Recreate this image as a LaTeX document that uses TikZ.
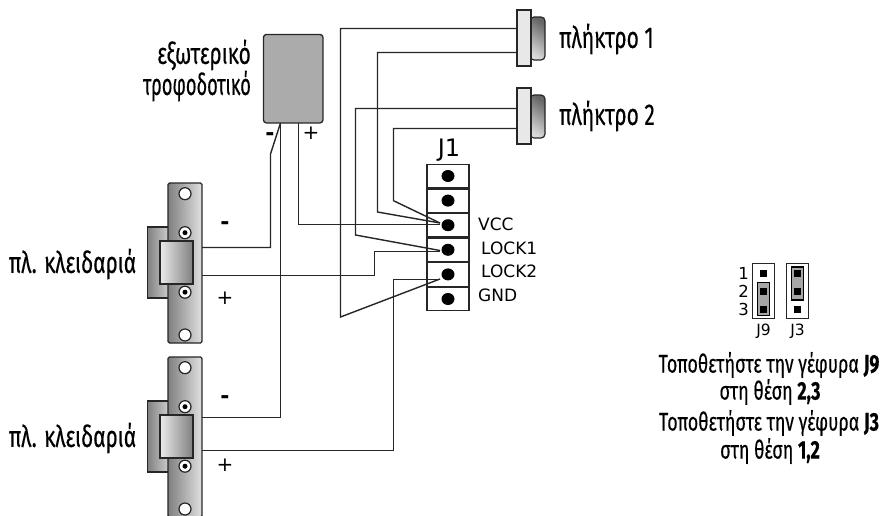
\documentclass[tikz,border=0pt]{standalone}
\usepackage{fontspec}
\setmainfont{DejaVu Sans}
\newfontfamily\labelfont[FakeStretch=0.70,FakeBold=0.35]{Fira Sans}
\usetikzlibrary{positioning, shapes.geometric}
\definecolor{wirecol}{gray}{0.15}
\tikzset{
  x=1pt, y=-1pt,
  wire/.style={draw=wirecol, line width=1.4pt},
  box/.style={draw=black!85, line width=1.2pt, inner sep=0pt, minimum width=#1},
  platebody/.style={box=34pt, minimum height=160pt, rounded corners=1.5pt, left color=black!50, right color=black!12},
  platebar/.style={box=21pt, minimum height=71pt, left color=black!50, right color=black!20},
  platekeep/.style={box=33pt, minimum height=43pt, left color=black!8, right color=black!50},
  hole/.style={circle, draw=black!85, line width=1.2pt, fill=white, inner sep=0pt, minimum size=#1},
  screw/.style={circle, fill=black, inner sep=0pt, minimum size=5pt},
  pad/.style={ellipse, fill=black, inner sep=0pt, minimum width=13pt, minimum height=12pt},
  cell/.style={draw=black!85, line width=1.2pt, inner sep=0pt, minimum width=42pt, minimum height=23.4pt},
  pinsq/.style={fill=black, inner sep=0pt, minimum size=7pt},
  bridge/.style={draw=black, line width=1.5pt, fill=black!35, inner sep=0pt, minimum width=12pt, minimum height=33pt},
  header/.style={draw=black!85, line width=1pt, inner sep=0pt, minimum width=22pt, minimum height=55.5pt},
  keycap/.style={draw=black!85, line width=1.2pt, rounded corners=4pt, top color=black!60, bottom color=black!15, shading angle=-35},
  keybody/.style={box=14pt, minimum height=56pt, fill=black!9},
  biglabel/.style={font=\labelfont\fontsize{30}{32}\selectfont, inner sep=0pt},
  notelabel/.style={font=\labelfont\fontsize{25.5}{28}\selectfont, inner sep=0pt},
  pinlabel/.style={font=\fontsize{17}{19}\selectfont, inner sep=0pt, anchor=west},
  smalllabel/.style={font=\fontsize{15.5}{17}\selectfont, inner sep=0pt},
  signlabel/.style={font=\fontsize{20}{22}\selectfont, inner sep=0pt},
  minuslabel/.style={font=\bfseries\fontsize{22}{24}\selectfont, inner sep=0pt},
}

\begin{document}
\begin{tikzpicture}
  \useasboundingbox (0,0) rectangle (881,515);

  % locks
  \foreach \nm/\dy in {A/0, B/174} {
    \begin{scope}[yshift=-\dy pt]
      \node[platebar]  (bar\nm)  at (157.8,262.5) {};
      \node[platebody] (body\nm) at (185,263) {};
      \node[hole=12pt] (holeT\nm) at (185,193.7) {};
      \node[hole=12pt] (holeU\nm) at (185,232.7) {};
      \node[screw]     at (holeU\nm) {};
      \node[hole=12pt] (holeL\nm) at (185,292.2) {};
      \node[screw]     at (holeL\nm) {};
      \node[hole=12pt] (holeB\nm) at (185,335) {};
      \node[platekeep] (keep\nm) at (176.5,262.5) {};
    \end{scope}
  }

  % supply
  \node[draw=black!85, line width=1.3pt, fill=black!33, rounded corners=3pt, inner sep=0pt,
        minimum width=59.5pt, minimum height=88.5pt] (supply) at (293.2,78.7) {};

  % keys
  \draw[keycap] (530,17) -- (545,17) -- (545,60) -- (530,60) -- cycle;
  \draw[keycap] (530,95) -- (545,95) -- (545,138) -- (530,138) -- cycle;
  \node[keybody] (keyA) at (524,38) {};
  \node[keybody] (keyB) at (524,116) {};

  % J1
  \node[cell] (c1) at (448,176) {};
  \node[cell, below=0pt of c1] (c2) {};
  \node[cell, below=0pt of c2] (c3) {};
  \node[cell, below=0pt of c3] (c4) {};
  \node[cell, below=0pt of c4] (c5) {};
  \node[cell, below=0pt of c5] (c6) {};
  \foreach \i in {1,...,6} \node[pad] (p\i) at (c\i) {};
  \node[font=\fontsize{24}{26}\selectfont, inner sep=0pt] (jname) at (449,150) {J1};
  \node[pinlabel] (lvcc) at (478,224) {VCC};
  \node[pinlabel] (llka) at (481,248) {LOCK1};
  \node[pinlabel] (llkb) at (481,271.5) {LOCK2};
  \node[pinlabel] (lgnd) at (478,295) {GND};

  % wire ends
  \coordinate (tvcc) at (440,224.5);
  \coordinate (tvcb) at (440,223);
  \coordinate (tlka) at (440,251.5);
  \coordinate (tlkc) at (440,250.5);
  \coordinate (tlkb) at (440,279.5);
  \coordinate (tgnd) at (440,279);
  \coordinate (sneg) at (280.5,123);
  \coordinate (spos) at (298.5,123);
  \coordinate (kat) at (517,28.5);
  \coordinate (kab) at (517,52.5);
  \coordinate (kbt) at (517,108.5);
  \coordinate (kbb) at (517,128.5);
  \coordinate (lan) at (202,247.5);
  \coordinate (lap) at (202,275.5);
  \coordinate (lbn) at (202,417.5);
  \coordinate (lbp) at (202,450.5);

  \draw[wire] (sneg) -- (270.5,154) -- (270.5,247.5) -- (lan);
  \draw[wire] (sneg) -- (280.5,417.5) -- (lbn);
  \draw[wire] (spos) -- (298.5,224.5) -- (tvcc);
  \draw[wire] (lap) -- (374.5,275.5) -- (374.5,251.5) -- (tlka);
  \draw[wire] (lbp) -- (393.5,450.5) -- (393.5,279.5) -- (tlkb);
  \draw[wire] (kat) -- (340.5,28.5) -- (340.5,317) -- (tgnd);
  \draw[wire] (kab) -- (377.5,52.5) -- (377.5,212) -- (tvcb);
  \draw[wire] (kbt) -- (355.5,108.5) -- (355.5,235) -- (tlkc);
  \draw[wire] (kbb) -- (393.5,128.5) -- (393.5,200.7) -- (tvcb);

  % signs
  \node[minuslabel] (sa) at (225,226) {-};
  \node[signlabel] (sb) at (225,298) {+};
  \node[minuslabel] (sc) at (225,400) {-};
  \node[signlabel] (sd) at (225,465) {+};
  \node[minuslabel] (se) at (270,137) {-};
  \node[signlabel] (sf) at (311,133) {+};

  % labels
  \node[biglabel] (lblA) at (72.5,264) {πλ. κλειδαριά};
  \node[biglabel] (lblB) at (72.5,438) {πλ. κλειδαριά};
  \node[biglabel] (lblS) at (204,55) {εξωτερικό};
  \node[biglabel, xscale=0.87] (lblT) at (197,86) {τροφοδοτικό};
  \node[biglabel, anchor=west] (lblK) at (559,39) {πλήκτρο 1};
  \node[biglabel, anchor=west] (lblL) at (559,116) {πλήκτρο 2};

  % jumpers
  \node[header] (jn) at (763.2,291) {};
  \node[header] (jt) at (797,291) {};
  \node[bridge] (bn) at (763.3,299) {};
  \node[bridge] (bt) at (797.3,283.3) {};
  \foreach \i/\yy in {1/273.3, 2/291.5, 3/309.3} {
    \node[pinsq] (na\i) at (763.3,\yy) {};
    \node[pinsq] (nb\i) at (797.3,\yy) {};
    \node[smalllabel, font=\fontsize{16.5}{18}\selectfont] (nm\i) at (743.5,\yy) {\i};
  }
  \node[smalllabel] (nj) at (763.5,331) {J9};
  \node[smalllabel] (nk) at (797.5,331) {J3};

  \node[notelabel] (na) at (769,365) {Τοποθετήστε την γέφυρα \textbf{J9}};
  \node[notelabel] (nb) at (770,392) {στη θέση \textbf{2,3}};
  \node[notelabel] (nc) at (769,423) {Τοποθετήστε την γέφυρα \textbf{J3}};
  \node[notelabel] (nd) at (770,451) {στη θέση \textbf{1,2}};
\end{tikzpicture}
\end{document}
